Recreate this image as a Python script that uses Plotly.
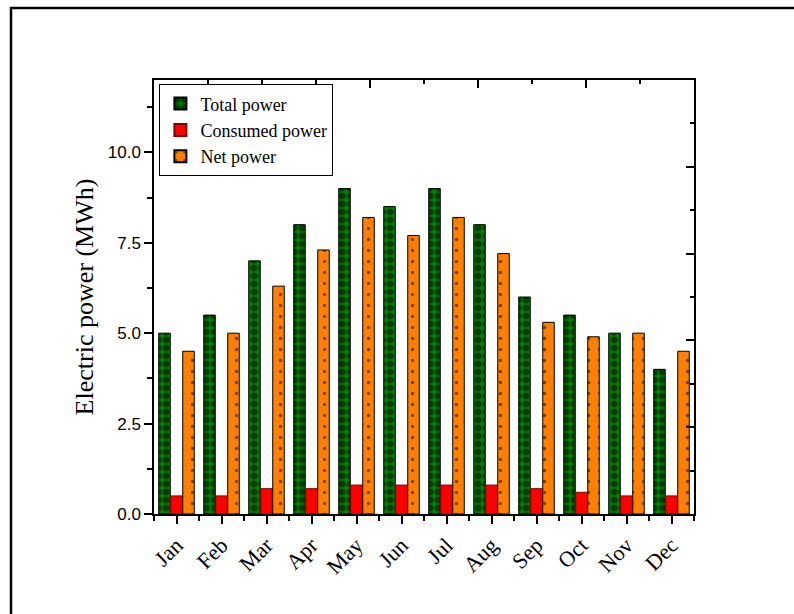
import plotly.graph_objects as go

months = ["Jan", "Feb", "Mar", "Apr", "May", "Jun", "Jul", "Aug", "Sep", "Oct", "Nov", "Dec"]
total_power = [5.0, 5.5, 7.0, 8.0, 9.0, 8.5, 9.0, 8.0, 6.0, 5.5, 5.0, 4.0]
consumed_power = [0.5, 0.5, 0.7, 0.7, 0.8, 0.8, 0.8, 0.8, 0.7, 0.6, 0.5, 0.5]
net_power = [4.5, 5.0, 6.3, 7.3, 8.2, 7.7, 8.2, 7.2, 5.3, 4.9, 5.0, 4.5]
y_ticks = [0.0, 2.5, 5.0, 7.5, 10.0]

xpos = list(range(1, len(months) + 1))

fig = go.Figure()
fig.add_trace(go.Bar(
    x=xpos, y=total_power, name="Total power",
    marker=dict(color="#007f00", line=dict(color="black", width=1),
                pattern=dict(shape=".", fgcolor="black", bgcolor="#007f00", size=8, solidity=0.6)),
))
fig.add_trace(go.Bar(
    x=xpos, y=consumed_power, name="Consumed power",
    marker=dict(color="#ff0000", line=dict(color="#7f0000", width=1)),
))
fig.add_trace(go.Bar(
    x=xpos, y=net_power, name="Net power",
    marker=dict(color="#ff8000", line=dict(color="black", width=1),
                pattern=dict(shape=".", fgcolor="black", bgcolor="#ff8000", size=11, solidity=0.08)),
))
# dummy trace to show top/right mirror axes with their own ticks
fig.add_trace(go.Scatter(x=[0], y=[0], xaxis="x2", yaxis="y2", mode="markers",
                         marker=dict(size=0, opacity=0), showlegend=False, hoverinfo="skip"))

fig.update_layout(
    width=794, height=614,
    margin=dict(l=154, r=100, t=80, b=100),
    paper_bgcolor="white", plot_bgcolor="white",
    barmode="group", bargap=0.2, bargroupgap=0.04,
    showlegend=True,
    legend=dict(x=0.01, y=0.99, xanchor="left", yanchor="top",
                bordercolor="black", borderwidth=1, bgcolor="white",
                font=dict(family="Liberation Serif", size=18, color="black"),
                tracegroupgap=0, itemsizing="constant"),
    xaxis=dict(
        range=[0.5, 12.5], tickmode="array", tickvals=xpos, ticktext=months,
        tickangle=-45, ticks="outside", ticklen=8, tickwidth=1.5, tickcolor="black",
        showline=True, linecolor="black", linewidth=1.5, showgrid=False, zeroline=False,
        tickfont=dict(family="Liberation Serif", size=22, color="black"),
        minor=dict(tickmode="linear", tick0=0.5, dtick=1, ticks="outside", ticklen=5,
                   tickwidth=1.5, tickcolor="black", showgrid=False),
    ),
    yaxis=dict(
        range=[0, 12], tickmode="array", tickvals=y_ticks,
        ticktext=[f"{v:.1f}" for v in y_ticks],
        ticks="outside", ticklen=8, tickwidth=1.5, tickcolor="black",
        showline=True, linecolor="black", linewidth=1.5, showgrid=False, zeroline=False,
        tickfont=dict(family="Liberation Sans", size=17, color="black"),
        title=dict(text="Electric power (MWh)", standoff=7,
                   font=dict(family="Liberation Serif", size=26, color="black")),
        minor=dict(tickmode="linear", tick0=0, dtick=1.25, ticks="outside", ticklen=5,
                   tickwidth=1.5, tickcolor="black", showgrid=False),
    ),
    xaxis2=dict(
        overlaying="x", side="top", range=[0, 10], tickmode="linear", tick0=0, dtick=2,
        ticks="inside", ticklen=8, tickwidth=1.5, tickcolor="black", showticklabels=False,
        showline=True, linecolor="black", linewidth=1.5, showgrid=False, zeroline=False,
        minor=dict(tickmode="linear", tick0=0, dtick=1, ticks="inside", ticklen=4,
                   tickwidth=1.5, tickcolor="black", showgrid=False),
    ),
    yaxis2=dict(
        overlaying="y", side="right", range=[0, 10], tickmode="linear", tick0=0, dtick=2,
        ticks="inside", ticklen=8, tickwidth=1.5, tickcolor="black", showticklabels=False,
        showline=True, linecolor="black", linewidth=1.5, showgrid=False, zeroline=False,
        minor=dict(tickmode="linear", tick0=0, dtick=1, ticks="inside", ticklen=4,
                   tickwidth=1.5, tickcolor="black", showgrid=False),
    ),
    shapes=[dict(type="rect", xref="paper", yref="paper",
                 x0=(11 - 154) / 540, x1=1.4, y0=-0.4, y1=(514 - 8) / 434,
                 line=dict(color="black", width=2.5), fillcolor="rgba(0,0,0,0)", layer="below")],
)

fig.write_html("out.html")
